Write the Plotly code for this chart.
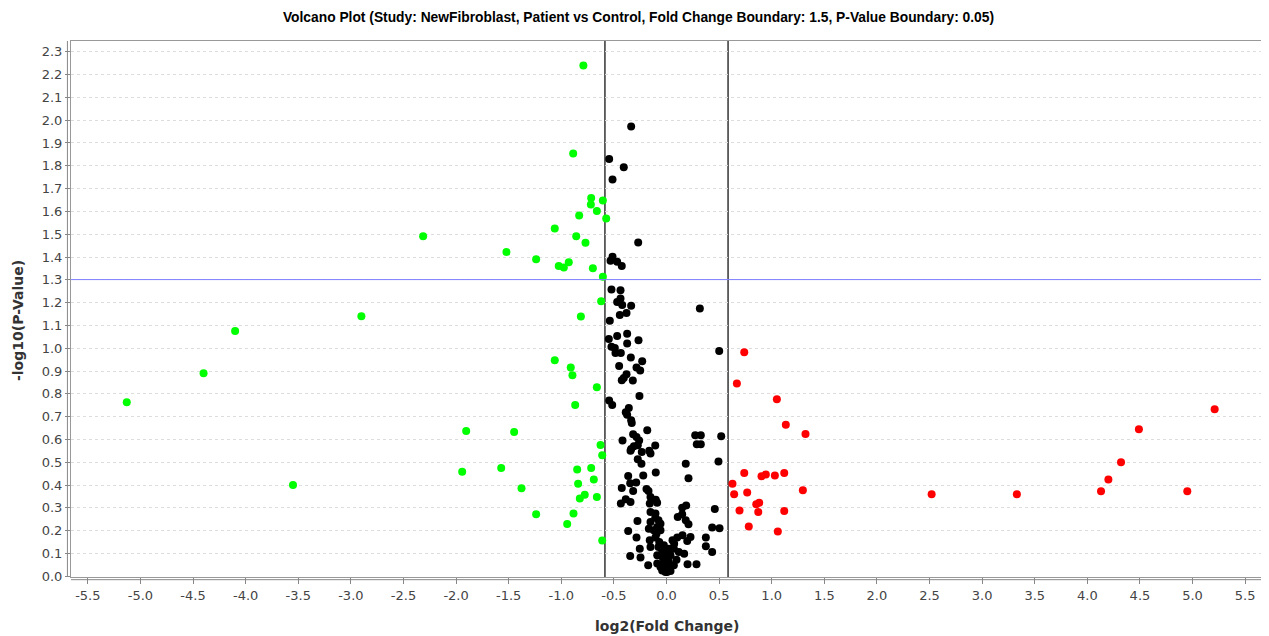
import plotly.graph_objects as go

# ---- data (log2 fold change, -log10 p-value) ----
green_x = [-0.887, -0.716, -0.719, -0.605, -0.662, -0.830, -0.573, -1.062, -2.313, -0.858,
           -0.770, -1.521, -1.239, -1.024, -0.976, -0.929, -0.700, -0.605, -0.621, -0.814,
           -1.062, -0.910, -0.894, -0.662, -0.868, -1.904, -1.448, -0.627, -0.611, -1.942,
           -1.571, -0.849, -0.716, -0.691, -0.840, -1.378, -0.662, -0.777, -0.824, -1.239,
           -0.884, -0.944, -0.611, -2.90, -4.10, -4.40, -5.13, -3.55, -0.79]
green_y = [1.854, 1.659, 1.630, 1.648, 1.602, 1.582, 1.569, 1.525, 1.491, 1.491,
           1.463, 1.422, 1.390, 1.361, 1.354, 1.377, 1.351, 1.313, 1.206, 1.139,
           0.947, 0.915, 0.882, 0.829, 0.751, 0.637, 0.633, 0.576, 0.531, 0.458,
           0.475, 0.468, 0.475, 0.425, 0.406, 0.386, 0.348, 0.358, 0.341, 0.272,
           0.275, 0.229, 0.157, 1.140, 1.075, 0.890, 0.763, 0.400, 2.240]

red_x = [0.739, 0.669, 1.049, 1.134, 1.321, 0.739, 0.903, 0.944, 1.030, 1.119,
         0.627, 0.643, 0.767, 1.296, 0.853, 0.881, 0.694, 0.872, 1.119, 0.782,
         1.058, 2.52, 3.33, 4.13, 4.20, 4.32, 4.49, 4.95, 5.21]
red_y = [0.982, 0.845, 0.776, 0.665, 0.624, 0.453, 0.439, 0.446, 0.442, 0.453,
         0.406, 0.360, 0.367, 0.377, 0.316, 0.323, 0.289, 0.282, 0.286, 0.218,
         0.197, 0.360, 0.360, 0.373, 0.425, 0.500, 0.645, 0.373, 0.732]

black_x = [-0.336, -0.545, -0.406, -0.513, -0.269, -0.513, -0.532, -0.469, -0.425, -0.523,
           -0.437, -0.469, -0.437, -0.421, -0.336, 0.317, -0.444, -0.380, -0.539, -0.374,
           -0.469, -0.548, -0.266, -0.374, -0.523, -0.491, 0.501, -0.485, -0.434, -0.339,
           -0.231, -0.450, -0.285, -0.250, -0.380, -0.406, -0.425, -0.320, -0.257, -0.545,
           -0.516, -0.358, -0.387, -0.374, -0.336, -0.330, -0.183, -0.418, -0.317, -0.285,
           -0.260, -0.336, -0.310, -0.342, -0.273, -0.107, -0.235, -0.164, -0.152, -0.273,
           -0.238, -0.102, -0.364, -0.221, -0.345, -0.288, -0.425, -0.317, -0.190, -0.171,
           -0.387, -0.434, -0.342, -0.152, -0.102, -0.089, -0.159, 0.273, 0.326, 0.288,
           0.326, 0.520, 0.183, 0.494, 0.209, 0.187, 0.149, 0.459, -0.152, -0.105,
           -0.107, -0.276, -0.152, -0.076, 0.107, 0.149, 0.183, 0.209, -0.364, -0.168,
           -0.121, -0.057, 0.434, 0.504, -0.285, -0.159, -0.105, -0.069, 0.057, 0.102,
           0.152, 0.228, 0.197, 0.073, 0.374, 0.374, 0.434, -0.254, -0.152, -0.076,
           0.070, -0.345, -0.247, -0.088, -0.038, 0.038, 0.168, 0.095, -0.174, -0.088,
           -0.057, 0.006, 0.038, -0.010, 0.200, 0.285, 0.070, 0.000, -0.041, 0.013,
           -0.025, 0.022, 0.117, -0.088, -0.057, -0.095, -0.025, 0.022, 0.006, -0.041]
black_y = [1.972, 1.830, 1.794, 1.740, 1.464, 1.401, 1.383, 1.379, 1.361, 1.257,
           1.254, 1.203, 1.218, 1.189, 1.186, 1.174, 1.146, 1.154, 1.121, 1.064,
           1.054, 1.041, 1.035, 1.021, 1.006, 1.001, 0.988, 0.979, 0.979, 0.959,
           0.943, 0.922, 0.915, 0.902, 0.886, 0.870, 0.860, 0.858, 0.791, 0.771,
           0.751, 0.738, 0.719, 0.708, 0.684, 0.672, 0.640, 0.596, 0.623, 0.611,
           0.596, 0.558, 0.570, 0.550, 0.575, 0.573, 0.545, 0.550, 0.538, 0.513,
           0.494, 0.455, 0.440, 0.442, 0.408, 0.411, 0.387, 0.374, 0.383, 0.374,
           0.338, 0.319, 0.326, 0.348, 0.336, 0.323, 0.319, 0.618, 0.618, 0.579,
           0.579, 0.614, 0.494, 0.503, 0.430, 0.311, 0.301, 0.295, 0.282, 0.275,
           0.257, 0.243, 0.238, 0.246, 0.260, 0.272, 0.246, 0.228, 0.199, 0.209,
           0.202, 0.202, 0.214, 0.211, 0.170, 0.158, 0.170, 0.150, 0.158, 0.170,
           0.180, 0.172, 0.155, 0.143, 0.170, 0.132, 0.107, 0.121, 0.129, 0.129,
           0.121, 0.089, 0.082, 0.092, 0.085, 0.092, 0.099, 0.073, 0.048, 0.056,
           0.041, 0.041, 0.023, 0.019, 0.053, 0.053, 0.048, 0.070, 0.114, 0.099,
           0.136, 0.121, 0.107, 0.216, 0.231, 0.187, 0.063, 0.063, 0.019, 0.026]

fc_boundary = 0.585   # log2(1.5)
p_boundary = 1.301    # -log10(0.05)

x_ticks = [-5.5 + 0.5 * i for i in range(23)]
y_ticks = [0.1 * i for i in range(24)]

title_text = ("Volcano Plot (Study: NewFibroblast, Patient vs Control, "
              "Fold Change Boundary: 1.5, P-Value Boundary: 0.05)")

fig = go.Figure()
for xs, ys, col in [(black_x, black_y, "#000000"),
                    (green_x, green_y, "#00ff00"),
                    (red_x, red_y, "#ff0000")]:
    fig.add_trace(go.Scatter(x=xs, y=ys, mode="markers",
                             marker=dict(color=col, size=8, line=dict(width=0)),
                             showlegend=False, hoverinfo="x+y"))

# boundary lines
fig.add_shape(type="line", xref="x", yref="paper", x0=-fc_boundary, x1=-fc_boundary,
              y0=0, y1=1, line=dict(color="#000000", width=1.2), layer="between")
fig.add_shape(type="line", xref="x", yref="paper", x0=fc_boundary, x1=fc_boundary,
              y0=0, y1=1, line=dict(color="#000000", width=1.2), layer="between")
fig.add_shape(type="line", xref="paper", yref="y", x0=0, x1=1, y0=p_boundary, y1=p_boundary,
              line=dict(color="#7f7fff", width=1), layer="above")
# offset axis lines (JFreeChart style)
fig.add_shape(type="line", xref="paper", yref="paper", x0=0, x1=1, y0=-0.005, y1=-0.005,
              line=dict(color="#888888", width=1))
fig.add_shape(type="line", xref="paper", yref="paper", x0=-0.003, x1=-0.003, y0=0, y1=1,
              line=dict(color="#888888", width=1))

tickfont = dict(family="DejaVu Sans", size=13, color="#444444")
axis_title_font = dict(family="DejaVu Sans", size=14, color="#333333")

fig.add_annotation(text="<b>log2(Fold Change)</b>", xref="paper", yref="paper",
                   x=0.5, y=-49 / 536, xanchor="center", yanchor="middle",
                   showarrow=False, font=axis_title_font)
fig.add_annotation(text="<b>-log10(P-Value)</b>", xref="paper", yref="paper",
                   x=-53 / 1191, y=257 / 536, xanchor="center", yanchor="middle",
                   textangle=-90, showarrow=False, font=axis_title_font)

# page body adds an 8px margin, so the figure is sized/offset to compensate
fig.update_layout(
    width=1261, height=628,
    paper_bgcolor="white", plot_bgcolor="white",
    margin=dict(l=63, r=7, t=33, b=59, autoexpand=False),
    title=dict(text="<b>" + title_text + "</b>", x=0.5, xanchor="center",
               y=1 - 9 / 628, yanchor="middle", yref="container",
               font=dict(family="Liberation Sans", size=13.8, color="#000000")),
    xaxis=dict(range=[-5.66, 5.66], tickvals=x_ticks, ticktext=[f"{v:.1f}" for v in x_ticks],
               showgrid=False, zeroline=False, showline=True, mirror=True, automargin=False,
               linecolor="#999999", linewidth=1, ticks="outside", ticklen=6,
               tickcolor="#888888", tickfont=tickfont),
    yaxis=dict(range=[-0.003, 2.347], tickvals=y_ticks, ticktext=[f"{v:.1f}" for v in y_ticks],
               showgrid=True, gridcolor="#dddddd", griddash="dot", gridwidth=1,
               zeroline=False, showline=True, mirror=True, automargin=False,
               linecolor="#999999", linewidth=1, ticks="outside", ticklen=5,
               tickcolor="#888888", tickfont=tickfont),
)

fig.write_html("out.html")
